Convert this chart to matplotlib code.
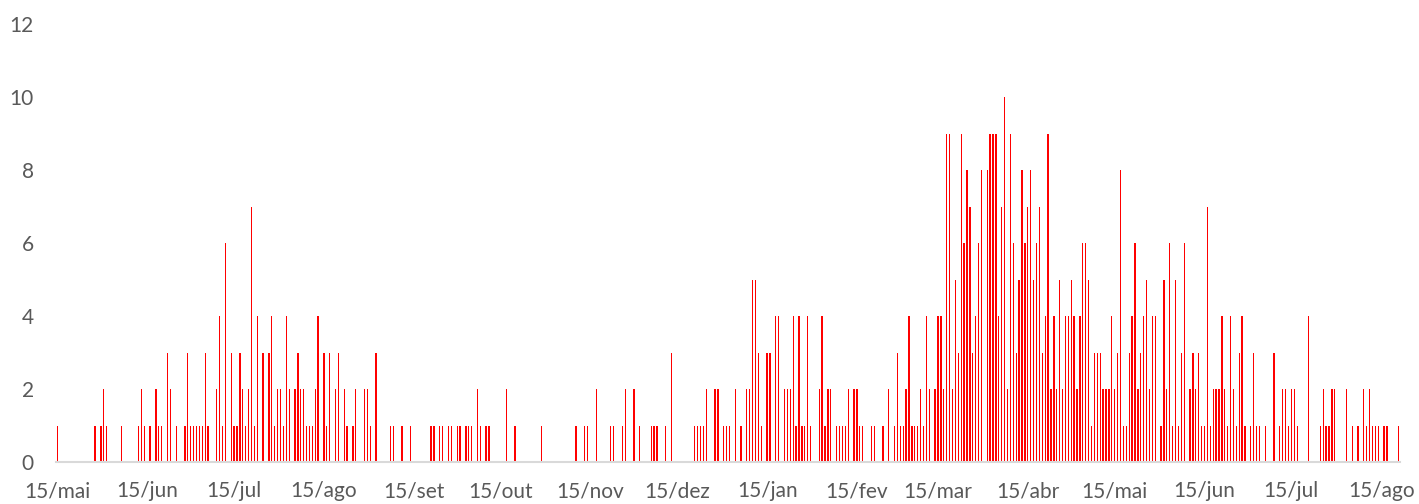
import matplotlib

matplotlib.use("Agg")
import matplotlib.pyplot as plt
import numpy as np
import pandas as pd

plt.rcParams["font.family"] = ["Lato", "DejaVu Sans"]

# casos diarios a partir de 15/05/2020
INICIO = "2020-05-15"
OBITOS = [
    1, 0, 0, 0, 0, 0, 0, 0, 0, 0, 0, 0, 0, 1, 0, 1, 2, 1, 0, 0,
    0, 0, 1, 0, 0, 0, 0, 0, 1, 2, 1, 0, 1, 0, 2, 1, 1, 0, 3, 2,
    0, 1, 0, 0, 1, 3, 1, 1, 1, 1, 1, 3, 1, 0, 0, 2, 4, 1, 6, 0,
    3, 1, 1, 3, 2, 1, 2, 7, 1, 4, 0, 3, 0, 3, 4, 1, 2, 2, 1, 4,
    2, 0, 2, 3, 2, 2, 1, 1, 1, 2, 4, 0, 3, 1, 3, 0, 2, 3, 0, 2,
    1, 0, 1, 2, 0, 0, 2, 2, 1, 0, 3, 0, 0, 0, 0, 1, 1, 0, 0, 1,
    0, 0, 1, 0, 0, 0, 0, 0, 0, 1, 1, 0, 1, 1, 0, 1, 1, 0, 1, 1,
    0, 1, 1, 1, 0, 2, 1, 0, 1, 1, 0, 0, 0, 0, 0, 2, 0, 0, 1, 0,
    0, 0, 0, 0, 0, 0, 0, 1, 0, 0, 0, 0, 0, 0, 0, 0, 0, 0, 0, 1,
    0, 0, 1, 1, 0, 0, 2, 0, 0, 0, 0, 1, 1, 0, 0, 1, 2, 0, 0, 2,
    0, 1, 0, 0, 0, 1, 1, 1, 0, 0, 1, 0, 3, 0, 0, 0, 0, 0, 0, 0,
    1, 1, 1, 1, 2, 0, 0, 2, 2, 0, 1, 1, 1, 0, 2, 0, 1, 0, 2, 2,
    5, 5, 3, 1, 0, 3, 3, 0, 4, 4, 0, 2, 2, 2, 4, 1, 4, 1, 1, 4,
    1, 0, 0, 2, 4, 1, 2, 2, 0, 1, 1, 1, 1, 2, 0, 2, 2, 1, 1, 0,
    0, 1, 1, 0, 0, 1, 0, 2, 0, 1, 3, 1, 1, 2, 4, 1, 1, 1, 2, 1,
    4, 2, 0, 2, 4, 4, 2, 9, 9, 2, 5, 3, 9, 6, 8, 7, 3, 4, 6, 8,
    0, 8, 9, 9, 9, 4, 7, 10, 2, 9, 6, 3, 5, 8, 6, 7, 8, 5, 6, 7,
    3, 4, 9, 2, 4, 2, 5, 2, 4, 4, 5, 4, 2, 4, 6, 6, 5, 1, 3, 3,
    3, 2, 2, 2, 4, 2, 3, 8, 1, 1, 3, 4, 6, 2, 3, 4, 5, 2, 4, 4,
    0, 1, 5, 2, 6, 1, 5, 1, 3, 6, 0, 2, 3, 2, 3, 1, 1, 7, 1, 2,
    2, 2, 4, 2, 1, 4, 2, 1, 3, 4, 1, 0, 1, 3, 1, 1, 0, 1, 0, 0,
    3, 0, 1, 2, 2, 1, 2, 2, 1, 0, 0, 0, 4, 0, 0, 0, 1, 2, 1, 1,
    2, 2, 0, 0, 0, 2, 0, 1, 0, 1, 0, 2, 1, 2, 1, 1, 1, 0, 1, 1,
    0, 0, 0, 1,
]
MESES = ["jan", "fev", "mar", "abr", "mai", "jun", "jul", "ago", "set", "out", "nov", "dez"]
Y_TICKS = [0, 2, 4, 6, 8, 10, 12]

GRAY = "#595959"


def main() -> None:
    start = pd.Timestamp(INICIO)
    x = np.arange(len(OBITOS))

    tick_dates = pd.date_range("2020-05-01", "2021-08-01", freq="MS") + pd.Timedelta(days=14)
    tick_pos = [(d - start).days for d in tick_dates]
    tick_lab = [f"15/{MESES[d.month - 1]}" for d in tick_dates]

    fig = plt.figure(figsize=(14.19, 5.04), dpi=100)
    ax = fig.add_axes([56 / 1419, 42 / 504, 1344 / 1419, 438 / 504])
    ax.bar(x, OBITOS, width=0.45, color="#ff0000", linewidth=0)

    ax.set_xlim(-0.5, len(OBITOS) - 0.5)
    ax.set_ylim(0, 12)
    ax.set_yticks(Y_TICKS)
    ax.set_xticks(tick_pos)
    ax.set_xticklabels(tick_lab)

    for side in ("top", "right", "left"):
        ax.spines[side].set_visible(False)
    ax.spines["bottom"].set_color("#d9d9d9")
    ax.spines["bottom"].set_linewidth(1.5)
    ax.tick_params(axis="both", length=0, labelsize=15, colors=GRAY)
    ax.tick_params(axis="y", pad=16)
    ax.tick_params(axis="x", pad=14)

    fig.savefig("out.png", dpi=100)
    plt.close(fig)


if __name__ == "__main__":
    main()
